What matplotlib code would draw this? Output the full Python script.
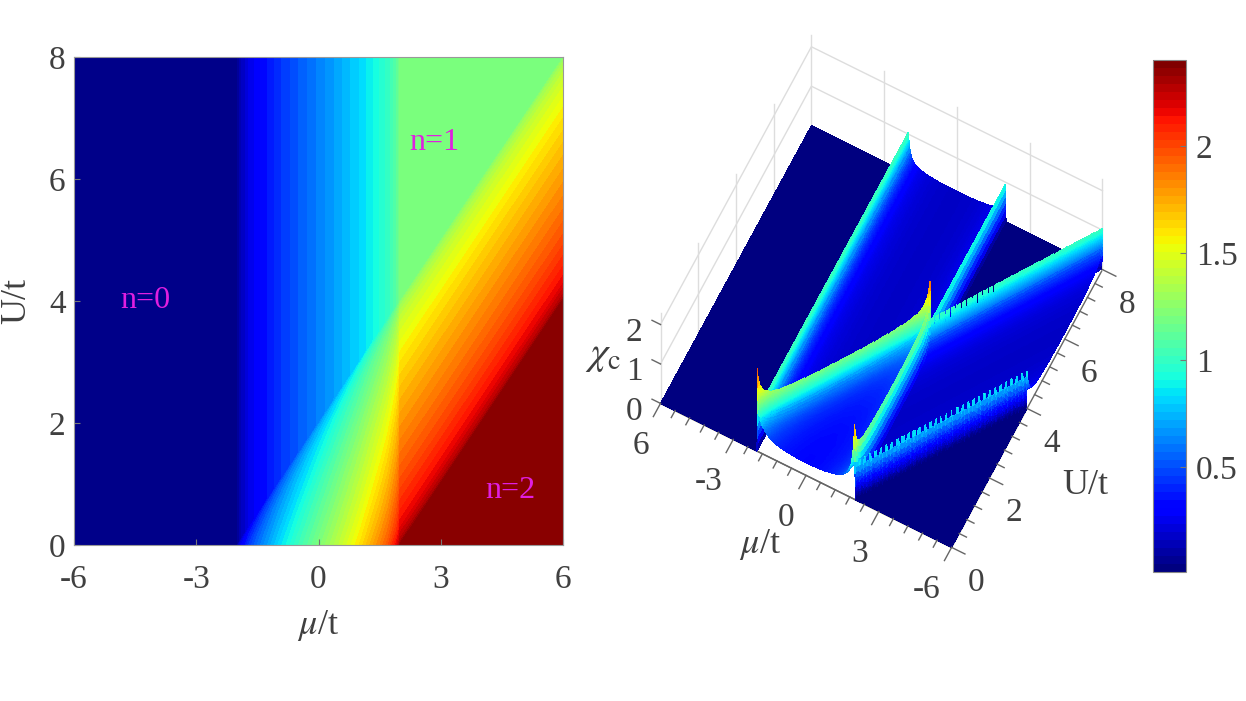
import itertools
import numpy as np
import matplotlib
matplotlib.use('Agg')
import matplotlib.pyplot as plt
from matplotlib.cm import ScalarMappable
from matplotlib.colors import Normalize
from mpl_toolkits.mplot3d import proj3d
from mpl_toolkits.mplot3d.art3d import Poly3DCollection

plt.rcParams['font.family'] = ['Liberation Serif', 'DejaVu Serif']
plt.rcParams['mathtext.fontset'] = 'stix'
plt.rcParams['axes.unicode_minus'] = False

# ---- values ----
# filling of one band against its own energy (left panel)
band_mu_fill = [-2.0, -1.97, -1.9, -1.7, -1.5, -1.0, -0.5, 0.0, 0.5, 1.0, 1.5, 1.7, 1.9, 1.97, 2.0]
band_fill = [0.0, 0.055, 0.10, 0.18, 0.23, 0.333, 0.42, 0.5, 0.58, 0.667, 0.77, 0.82, 0.90, 0.945, 1.0]
# compressibility of one band against its own energy (right panel)
band_mu_chi = [-2.0, -1.99, -1.97, -1.93, -1.85, -1.7, -1.5, -1.2, -0.8, -0.4, 0.0,
               0.4, 0.8, 1.2, 1.5, 1.7, 1.85, 1.93, 1.97, 1.99, 2.0]
band_chi = [1.05, 0.95, 0.80, 0.60, 0.42, 0.30, 0.24, 0.20, 0.174, 0.162, 0.159,
            0.162, 0.174, 0.20, 0.24, 0.30, 0.42, 0.58, 0.75, 0.88, 0.95]

mu_lim = [-6, 6]
U_lim = [0, 8]
left_xticks = [-6, -3, 0, 3, 6]
left_yticks = [0, 2, 4, 6, 8]
right_xticks = [-6, -3, 0, 3, 6]
right_xticklabels = ['6', '-3', '0', '3', '-6']
right_yticks = [0, 2, 4, 6, 8]
right_zticks = [0, 1, 2]
region_labels = ['n=0', 'n=1', 'n=2']
cbar_ticks = [0.5, 1, 1.5, 2]
cbar_ticklabels = ['0.5', '1', '1.5', '2']

W, H = 1246, 701
TXT = '#404040'
FS = 24

fig = plt.figure(figsize=(W / 100, H / 100), dpi=100, facecolor='white')

def px_rect(x0, y0, x1, y1):
    return [x0 / W, 1 - y1 / H, (x1 - x0) / W, (y1 - y0) / H]

fill = lambda e: np.interp(e, band_mu_fill, band_fill, left=0, right=1)
dos = lambda e: np.interp(e, band_mu_chi, band_chi, left=0, right=0)

# ---- left panel ----
mu = np.linspace(-6, 6, 481)
U = np.linspace(0, 8, 321)
MU, UU = np.meshgrid(mu, U)
N = fill(MU) + fill(MU - UU)

ax = fig.add_axes(px_rect(74, 57, 563, 545))
ax.contourf(MU, UU, N, levels=np.linspace(-0.001, 2.001, 58), cmap='jet', vmin=0, vmax=2)
ax.set_xlim(mu_lim)
ax.set_ylim(U_lim)
ax.set_xticks(left_xticks)
ax.set_yticks(left_yticks)
ax.tick_params(direction='in', length=4, width=0.8, color='#777777', labelcolor=TXT,
               labelsize=FS)
ax.tick_params(axis='x', pad=14)
ax.tick_params(axis='y', pad=6)
for s in ax.spines.values():
    s.set_color('#999999')
    s.set_linewidth(0.8)
ax.set_xlabel(r'$\mu$/t', fontsize=FS + 2, color=TXT)
ax.xaxis.set_label_coords(0.5, -0.13)
ax.set_ylabel('U/t', fontsize=FS + 2, color=TXT)
ax.yaxis.set_label_coords(-0.083, 0.5)
for lab, (lx, ly) in zip(region_labels, [(-4.25, 4.0), (2.85, 6.6), (4.7, 0.9)]):
    ax.text(lx, ly, lab, color='#e01fe0', fontsize=23, ha='center', va='center')

# ---- right panel ----
ax3 = fig.add_axes(px_rect(600, 30, 1150, 580), projection='3d', computed_zorder=False)
ax3.patch.set_visible(False)
ax3.set_proj_type('ortho')
AZIM = -62.6
ax3.view_init(elev=72.6, azim=AZIM)
ax3.set_box_aspect((1, 1, 0.925))
ax3.set_xlim(mu_lim)
ax3.set_ylim(U_lim)
ax3.set_zlim(0, 2.3)
ax3.grid(False)
for a in (ax3.xaxis, ax3.yaxis, ax3.zaxis):
    a.set_pane_color((1, 1, 1, 0))
    a.pane.set_edgecolor((1, 1, 1, 0))
    a.line.set_color('#666666')
    a.line.set_linewidth(1.0)
    a._axinfo['tick']['linewidth'] = {True: 0, False: 0}
ax3.zaxis._axinfo['juggled'] = (1, 0, 2)
ax3.set_xticks(right_xticks)
ax3.set_xticklabels(right_xticklabels, ha='right')
ax3.set_yticks(right_yticks)
ax3.set_zticks(right_zticks)
ax3.set_zticklabels([str(z) for z in right_zticks], va='center', ha='center')
ax3.tick_params(labelcolor=TXT, labelsize=FS)
ax3.tick_params(axis='x', pad=7)
ax3.tick_params(axis='y', pad=9)
ax3.tick_params(axis='z', pad=4)

GRID = '#dddddd'
z_top = 2.3
for u in right_yticks:
    ax3.plot([-6, -6], [u, u], [0, z_top], color=GRID, lw=1, zorder=1)
for m in right_xticks[1:]:
    ax3.plot([m, m], [8, 8], [0, z_top], color=GRID, lw=1, zorder=1)
for z in right_zticks[1:]:
    ax3.plot([-6, -6, 6], [0, 8, 8], [z, z, z], color=GRID, lw=1, zorder=1)

TICK = '#666666'
for m in np.arange(-6, 6.01, 0.6):
    major = abs(m / 3 - round(m / 3)) < 1e-6
    ax3.plot([m, m], [0, -0.38 if major else -0.2], [0, 0], color=TICK, lw=1, zorder=3)
for u in np.arange(0, 8.01, 0.4):
    major = abs(u / 2 - round(u / 2)) < 1e-6
    ax3.plot([6, 6.55 if major else 6.3], [u, u], [0, 0], color=TICK, lw=1, zorder=3)
for z in right_zticks:
    ax3.plot([-6, -6.35], [0, 0], [z, z], color=TICK, lw=1, zorder=3)

# place the 3D box on the reference footprint
fig.canvas.draw()
def to_px(x, y, z):
    xs, ys, _ = proj3d.proj_transform(x, y, z, ax3.get_proj())
    return ax3.transData.transform((xs, ys))
p0 = to_px(-6, 0, 0)
p1 = to_px(6, 8, 0)
t0 = np.array([661, H - 405.0])
t1 = np.array([1102, H - 268.0])
s = np.linalg.norm(t1 - t0) / np.linalg.norm(p1 - p0)
pos = ax3.get_position()
C = np.array([(pos.x0 + pos.x1) / 2 * W, (pos.y0 + pos.y1) / 2 * H])
Cn = (t0 + t1) / 2 - s * ((p0 + p1) / 2 - C)
w, h = pos.width * W * s, pos.height * H * s
ax3.set_position([(Cn[0] - w / 2) / W, (Cn[1] - h / 2) / H, w / W, h / H])

# surface, with steep cells split so that colour runs smoothly down their walls
CHI = dos(MU) + dos(MU - UU)
cos_a, sin_a = np.cos(np.radians(AZIM)), np.sin(np.radians(AZIM))
depth_key = lambda m, u: -(m / 12) * cos_a - (u / 8) * sin_a
corner = lambda A: np.stack([A[:-1, :-1], A[:-1, 1:], A[1:, 1:], A[1:, :-1]], axis=-1)
cM, cU, cZ = corner(MU), corner(UU), corner(CHI)
steep = (cZ.max(axis=-1) - cZ.min(axis=-1)) > 0.12
flat = ~steep
verts = [np.stack([cM[flat], cU[flat], cZ[flat]], axis=-1)]
vals = [cZ[flat].mean(axis=-1)]
keys = [depth_key(cM[flat].mean(axis=-1), cU[flat].mean(axis=-1))]
SUB = 6
t = np.linspace(0, 1, SUB + 1)
P, Q = np.meshgrid(t, t)
def bilinear(c):
    return (c[:, 0, None, None] * (1 - P) * (1 - Q) + c[:, 1, None, None] * P * (1 - Q)
            + c[:, 2, None, None] * P * Q + c[:, 3, None, None] * (1 - P) * Q)
sm, su, sz = bilinear(cM[steep]), bilinear(cU[steep]), bilinear(cZ[steep])
sub_corner = lambda A: np.stack([A[:, :-1, :-1], A[:, :-1, 1:], A[:, 1:, 1:], A[:, 1:, :-1]], axis=-1).reshape(-1, 4)
sm, su, sz = sub_corner(sm), sub_corner(su), sub_corner(sz)
verts.append(np.stack([sm, su, sz], axis=-1))
vals.append(sz.mean(axis=-1))
keys.append(depth_key(sm.mean(axis=-1), su.mean(axis=-1)))
verts = np.concatenate(verts)
vals = np.concatenate(vals)
keys = np.concatenate(keys)
norm3 = Normalize(0.012, 2.40)
surf = Poly3DCollection(verts, facecolors=plt.get_cmap('jet')(norm3(vals)),
                        linewidths=0, edgecolors='none', antialiased=False, zorder=2)
# far cells are painted first, judged on the floor plane, as a height field needs
_keys = itertools.cycle(keys.tolist())
surf._zsortfunc = lambda z: next(_keys)
ax3.add_collection3d(surf, autolim=False)

fig.text(603 / W, 1 - 355 / H, r'$\chi_{\mathrm{c}}$', fontsize=FS + 5, color=TXT, ha='center', va='center')
fig.text(760 / W, 1 - 545 / H, r'$\mu$/t', fontsize=FS + 2, color=TXT, ha='center', va='center')
fig.text(1085 / W, 1 - 485 / H, 'U/t', fontsize=FS + 2, color=TXT, ha='center', va='center')

# ---- colour bar ----
cax = fig.add_axes(px_rect(1153, 60, 1186, 572))
cb = fig.colorbar(ScalarMappable(norm=norm3, cmap=plt.get_cmap('jet', 64)), cax=cax)
cb.set_ticks(cbar_ticks)
cb.set_ticklabels(cbar_ticklabels)
cb.ax.tick_params(direction='in', length=4, width=0.8, color='#777777', labelcolor=TXT,
                  labelsize=FS, pad=7)
cb.outline.set_edgecolor('#888888')
cb.outline.set_linewidth(0.8)

fig.savefig('out.png', dpi=100, facecolor='white')
